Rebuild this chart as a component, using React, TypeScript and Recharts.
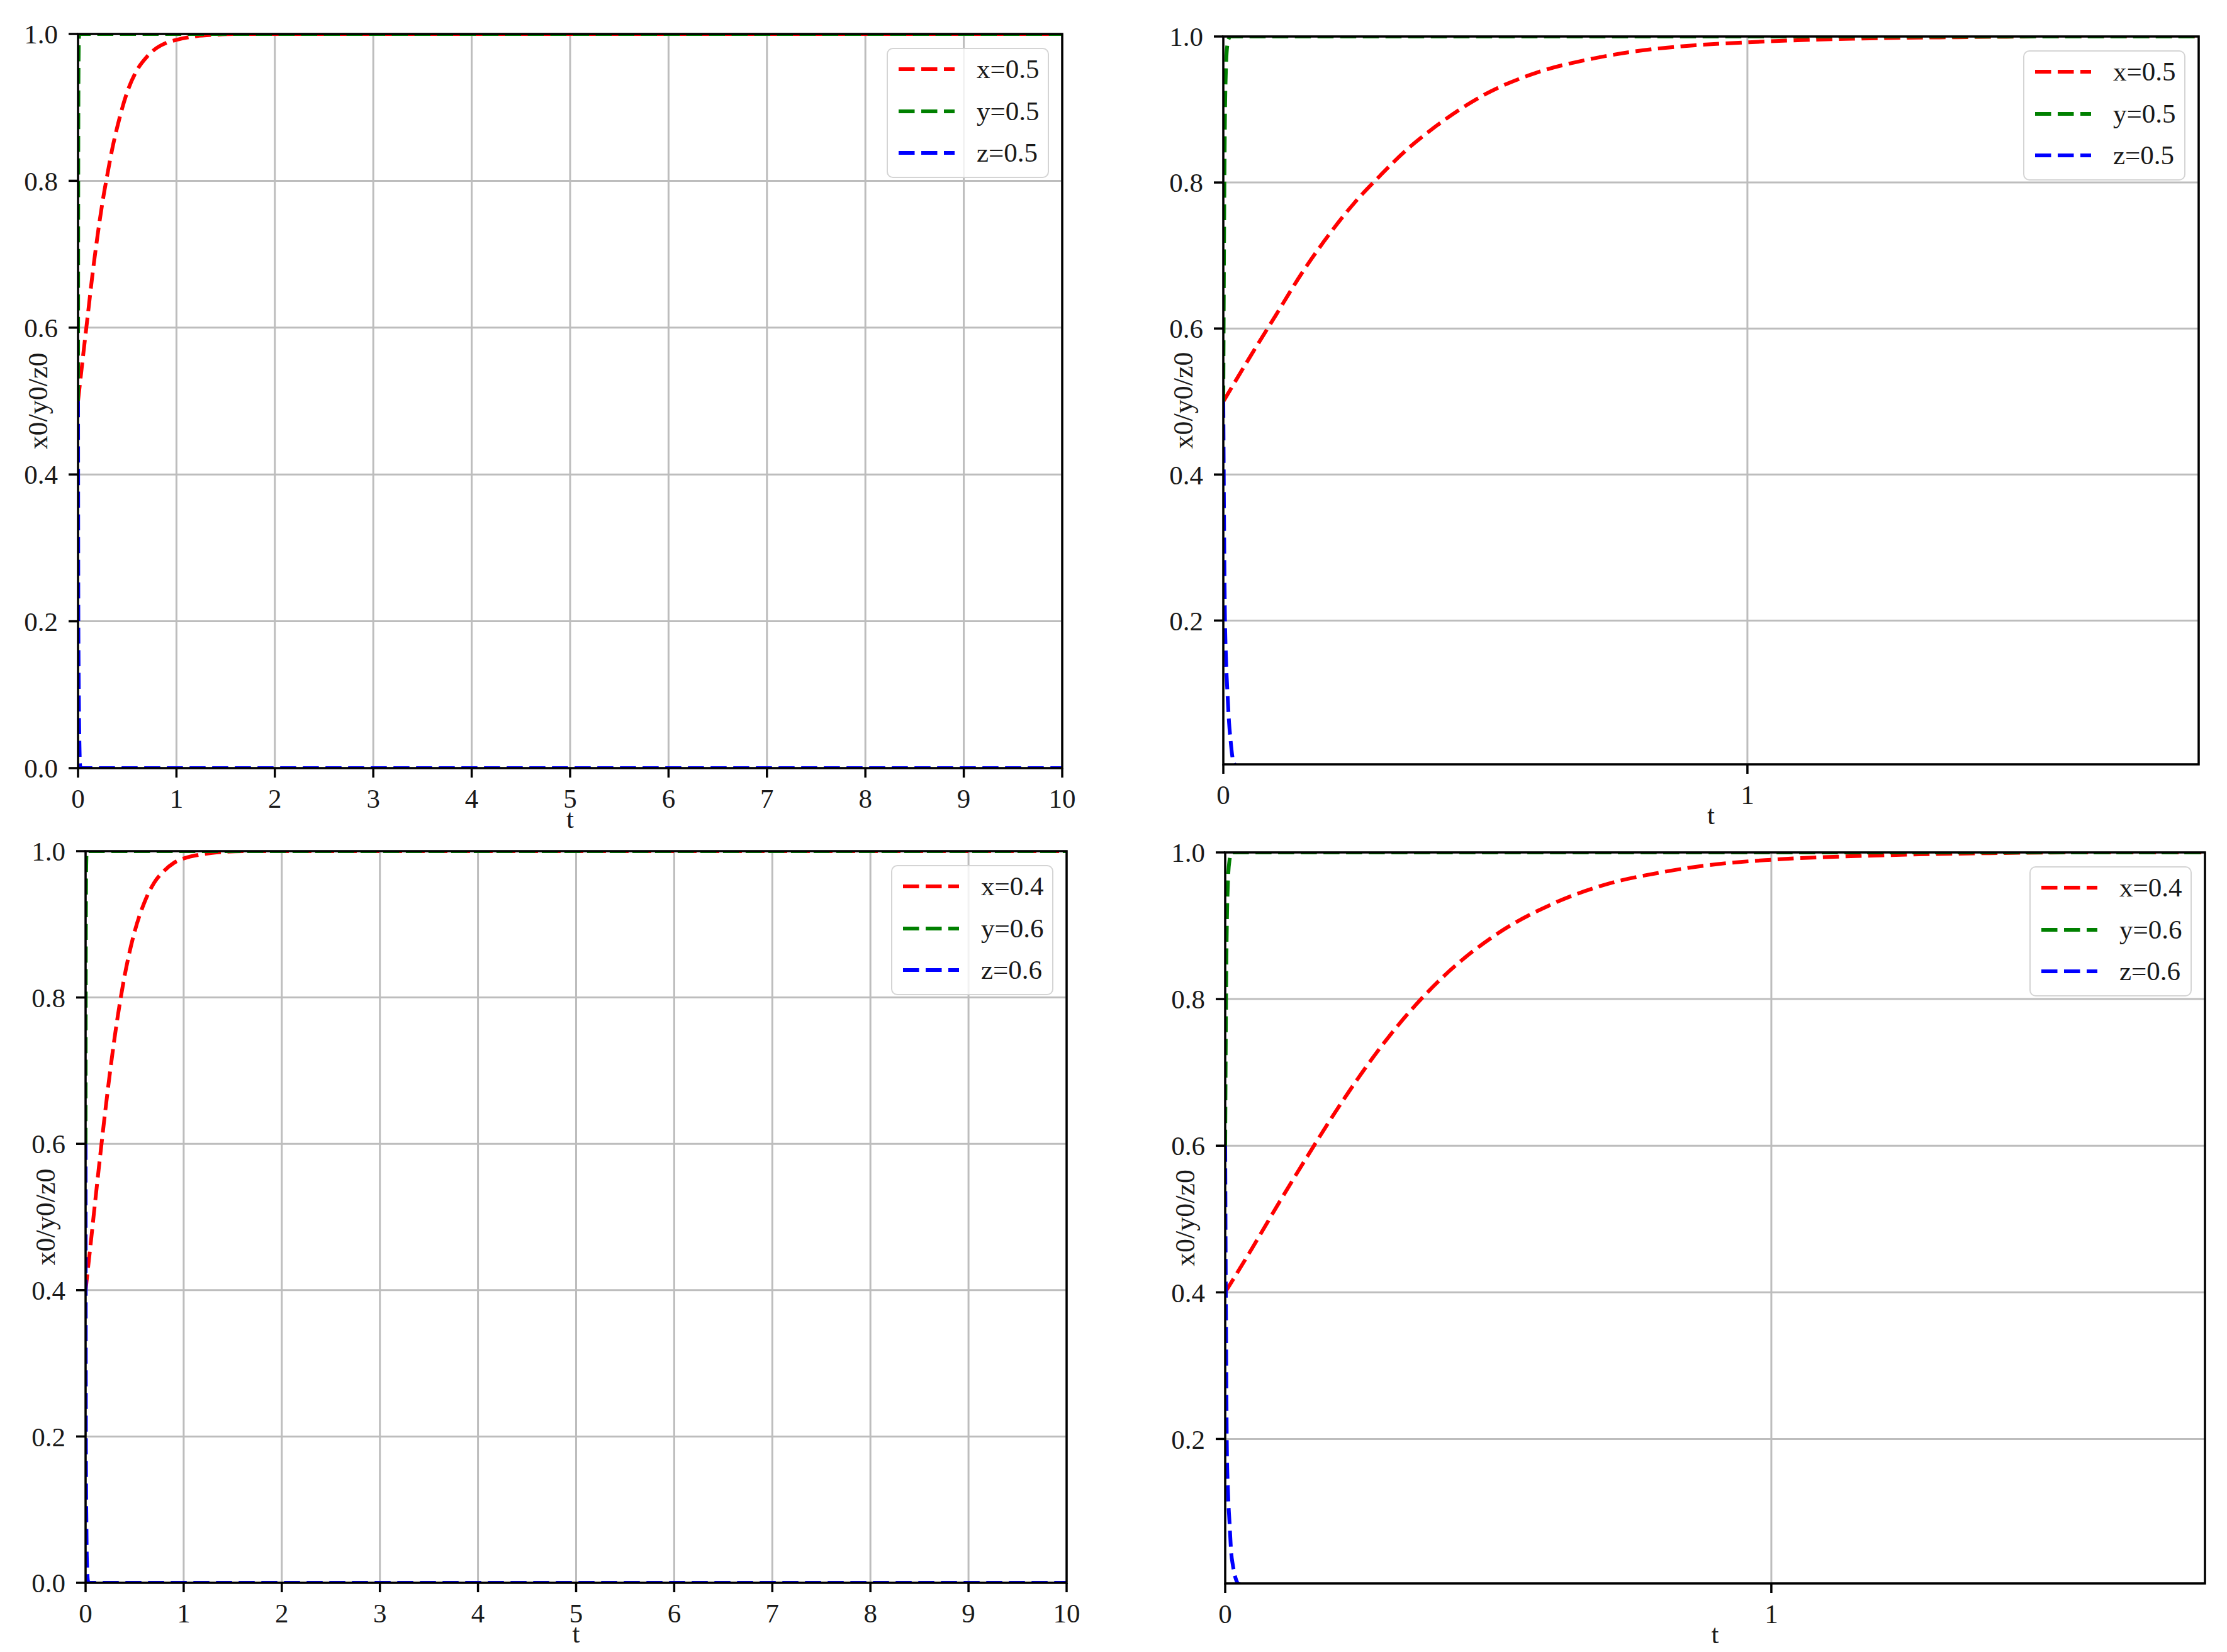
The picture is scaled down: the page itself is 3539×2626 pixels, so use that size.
import React from 'react';
import { LineChart, Line, XAxis, YAxis, CartesianGrid, Legend, ReferenceArea } from 'recharts';

const FONT = 'Liberation Serif, Times New Roman, serif';

// slow variable x (red curve), sampled along t
const T_SLOW = [0, 0.05, 0.1, 0.15, 0.2, 0.25, 0.3, 0.35, 0.4, 0.5, 0.6, 0.7, 0.8, 0.9, 1.0, 1.2, 1.4, 1.6, 1.8, 2, 3, 4, 5, 6, 7, 8, 9, 10];
const X_05 = [0.5, 0.56, 0.618, 0.676, 0.727, 0.772, 0.81, 0.845, 0.874, 0.921, 0.951, 0.969, 0.981, 0.988, 0.992, 0.997, 0.999, 1, 1, 1, 1, 1, 1, 1, 1, 1, 1, 1];
const X_04 = [0.4, 0.461, 0.524, 0.585, 0.644, 0.699, 0.749, 0.793, 0.831, 0.89, 0.93, 0.957, 0.973, 0.984, 0.99, 0.996, 0.999, 1, 1, 1, 1, 1, 1, 1, 1, 1, 1, 1];

// fast variables y (green) and z (blue)
const T_FAST = [0, 0.001, 0.002, 0.003, 0.005, 0.008, 0.011, 0.014, 0.017, 0.02, 0.025, 0.04, 10];
const Y_05 = [0.5, 0.66, 0.79, 0.88, 0.955, 0.99, 0.998, 1, 1, 1, 1, 1, 1];
const Z_05 = [0.5, 0.38, 0.28, 0.21, 0.15, 0.1, 0.06, 0.035, 0.015, 0.005, 0.001, 0, 0];
const Y_06 = [0.6, 0.74, 0.84, 0.9, 0.96, 0.99, 0.998, 1, 1, 1, 1, 1, 1];
const Z_06 = [0.6, 0.42, 0.29, 0.19, 0.13, 0.085, 0.045, 0.028, 0.016, 0.008, 0.002, 0, 0];

const NAMES_A = ['x=0.5', 'y=0.5', 'z=0.5'];
const NAMES_B = ['x=0.4', 'y=0.6', 'z=0.6'];

const T_TICKS_LONG = [0, 1, 2, 3, 4, 5, 6, 7, 8, 9, 10];
const T_TICKS_SHORT = [0, 1];
const V_TICKS_FULL = [0, 0.2, 0.4, 0.6, 0.8, 1.0];
const V_TICKS_ZOOM = [0.2, 0.4, 0.6, 0.8, 1.0];

const COLORS = ['#ff0000', '#008000', '#0000ff'];

// plot-area placement of the four subplots (page pixels)
const PANELS = [
  { id: 'tl', left: 124, top: 54, w: 1564, h: 1167, tMax: 10, vMin: 0, tTicks: T_TICKS_LONG, vTicks: V_TICKS_FULL, x: X_05, y: Y_05, z: Z_05, names: NAMES_A },
  { id: 'tr', left: 1944, top: 58, w: 1550, h: 1157, tMax: 1.861, vMin: 0.003, tTicks: T_TICKS_SHORT, vTicks: V_TICKS_ZOOM, x: X_05, y: Y_05, z: Z_05, names: NAMES_A },
  { id: 'bl', left: 136, top: 1353, w: 1559, h: 1163, tMax: 10, vMin: 0, tTicks: T_TICKS_LONG, vTicks: V_TICKS_FULL, x: X_04, y: Y_06, z: Z_06, names: NAMES_B },
  { id: 'br', left: 1947, top: 1355, w: 1557, h: 1162, tMax: 1.794, vMin: 0.003, tTicks: T_TICKS_SHORT, vTicks: V_TICKS_ZOOM, x: X_04, y: Y_06, z: Z_06, names: NAMES_B },
];

const Y_AXIS_W = 130;
const X_AXIS_H = 110;
const PAD_TOP = 50;
const PAD_RIGHT = 30;

const toPoints = (ts: number[], vs: number[]) => ts.map((t, i) => ({ t, v: vs[i] }));

const tickStyle = { fill: '#1a1a1a', fontSize: 43, fontFamily: FONT };

function YLabel(props: any) {
  const { viewBox } = props;
  const cx = viewBox.x + viewBox.width - 64;
  const cy = viewBox.y + viewBox.height / 2;
  return (
    <text x={cx} y={cy} transform={`rotate(-90 ${cx} ${cy})`} textAnchor="middle" dominantBaseline="central"
      fontSize={44} fontFamily={FONT} fill="#1a1a1a">
      x0/y0/z0
    </text>
  );
}

function TLabel(props: any) {
  const { viewBox } = props;
  return (
    <text x={viewBox.x + viewBox.width / 2} y={viewBox.y + 95} textAnchor="middle" fontSize={43} fontFamily={FONT} fill="#1a1a1a">
      t
    </text>
  );
}

function LegendBox(props: any) {
  const { payload } = props;
  return (
    <div style={{ width: 258, height: 207, boxSizing: 'border-box', border: '2px solid #d4d4d4', borderRadius: 10, background: 'rgba(255,255,255,0.8)', position: 'relative' }}>
      {(payload || []).map((entry: any, i: number) => (
        <div key={entry.value} style={{ position: 'absolute', left: 0, top: 7 + i * 66.5, height: 50, display: 'flex', alignItems: 'center' }}>
          <svg width={106} height={50} style={{ display: 'block' }}>
            <line x1={17} x2={106} y1={25} y2={25} stroke={entry.color} strokeWidth={6} strokeDasharray="25.5 10.5" />
          </svg>
          <span style={{ marginLeft: 35, fontSize: 43, fontFamily: FONT, color: '#1a1a1a', lineHeight: '50px', whiteSpace: 'nowrap' }}>
            {entry.value}
          </span>
        </div>
      ))}
    </div>
  );
}

function Panel({ p }: { p: (typeof PANELS)[number] }) {
  const width = p.w + Y_AXIS_W + PAD_RIGHT;
  const height = p.h + PAD_TOP + X_AXIS_H;
  const series = [
    { data: toPoints(T_SLOW, p.x), name: p.names[0], color: COLORS[0] },
    { data: toPoints(T_FAST, p.y), name: p.names[1], color: COLORS[1] },
    { data: toPoints(T_FAST, p.z), name: p.names[2], color: COLORS[2] },
  ];
  return (
    <div style={{ position: 'absolute', left: p.left - Y_AXIS_W, top: p.top - PAD_TOP }}>
      <LineChart width={width} height={height} margin={{ top: PAD_TOP, right: PAD_RIGHT, bottom: 0, left: 0 }}>
        <CartesianGrid stroke="#bdbdbd" strokeWidth={3} />
        <XAxis
          type="number"
          dataKey="t"
          domain={[0, p.tMax]}
          ticks={p.tTicks}
          interval={0}
          allowDataOverflow
          height={X_AXIS_H}
          axisLine={false}
          tickLine={{ stroke: '#000', strokeWidth: 3.5 }}
          tickSize={15}
          tickMargin={17}
          tick={tickStyle}
          tickFormatter={(v: number) => String(v)}
          label={{ content: TLabel }}
        />
        <YAxis
          type="number"
          domain={[p.vMin, 1]}
          ticks={p.vTicks}
          interval={0}
          allowDataOverflow
          width={Y_AXIS_W}
          axisLine={false}
          tickLine={{ stroke: '#000', strokeWidth: 3.5 }}
          tickSize={15}
          tickMargin={17}
          tick={tickStyle}
          tickFormatter={(v: number) => v.toFixed(1)}
          label={{ content: YLabel }}
        />
        {series.map((s) => (
          <Line
            key={s.name}
            data={s.data}
            dataKey="v"
            name={s.name}
            type="monotone"
            stroke={s.color}
            strokeWidth={6}
            strokeDasharray="25.5 10.5"
            dot={false}
            activeDot={false}
            isAnimationActive={false}
          />
        ))}
        <ReferenceArea x1={0} x2={p.tMax} y1={p.vMin} y2={1} fill="none" stroke="#000" strokeWidth={3.5} ifOverflow="visible" zIndex={2000} />
        <Legend
          layout="vertical"
          align="center"
          verticalAlign="middle"
          content={LegendBox}
          wrapperStyle={{ left: Y_AXIS_W + p.w - 21 - 258, top: PAD_TOP + 22, width: 258, height: 207 }}
        />
      </LineChart>
    </div>
  );
}

export default function App() {
  return (
    <div style={{ position: 'absolute', left: 0, top: 0, width: 3539, height: 2626, background: '#fff' }}>
      {PANELS.map((p) => (
        <Panel key={p.id} p={p} />
      ))}
    </div>
  );
}
